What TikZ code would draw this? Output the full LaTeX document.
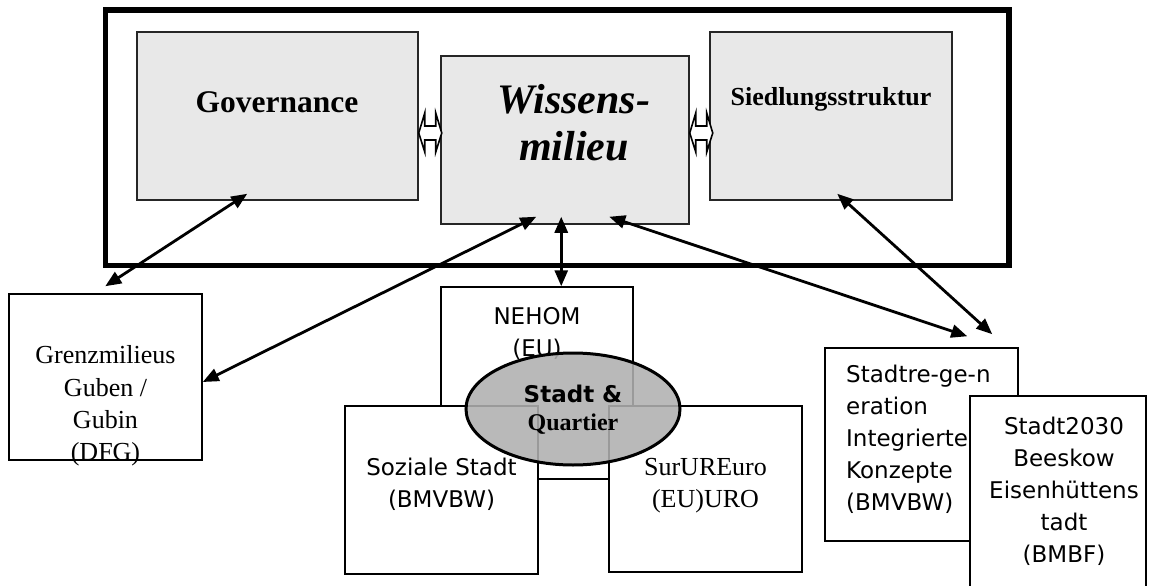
\documentclass[tikz,border=0pt]{standalone}
\usepackage{fontspec}
\setmainfont{Liberation Serif}
\newfontfamily\sansf{DejaVu Sans}
\usetikzlibrary{arrows.meta,shapes.geometric}
\definecolor{boxgray}{HTML}{E8E8E8}
\definecolor{ellgray}{HTML}{B0B0B0}
\begin{document}
\begin{tikzpicture}[x=1pt,y=-1pt,
  framebox/.style={draw=black, line width=5.5pt, inner sep=0pt, rectangle},
  whitebox/.style={draw=black, line width=1.5pt, fill=white, inner sep=0pt, rectangle},
  graybox/.style={whitebox, fill=boxgray, draw=black!85},
  conn/.style={line width=2.8pt, {Triangle[length=16pt,width=13pt]}-{Triangle[length=16pt,width=13pt]}},
  label/.style={inner sep=0pt, text=black},
  serif26/.style={label, font=\fontsize{26}{32.3}\selectfont, align=center},
  sans23/.style={label, font=\sansf\fontsize{23}{32}\selectfont, align=center},
  hollowarr/.pic={
    \draw[line width=1.6pt, fill=white, line join=miter]
      (0,0) -- (6,-20) -- (6,-7) -- (17,-7) -- (17,-20) -- (23,0)
      -- (17,19) -- (17,7) -- (6,7) -- (6,19) -- cycle;
  }]
\useasboundingbox (0,0) rectangle (1149,586);
\clip (0,0) rectangle (1149,586);

% outer frame and upper boxes
\node[framebox, minimum width=903.5pt, minimum height=255.5pt] (frame) at (557.25,137.75) {};
\node[graybox, minimum width=281pt, minimum height=168pt] (gov) at (277.5,116) {};
\node[graybox, minimum width=248pt, minimum height=168pt] (wiss) at (565,140) {};
\node[graybox, minimum width=242pt, minimum height=168pt] (sied) at (831,116) {};

\node[label, font=\fontsize{31.5}{36}\selectfont\bfseries] (govt) at (277,102) {Governance};
\node[label, font=\fontsize{26}{30}\selectfont\bfseries] (siedt) at (831,99) {Siedlungsstruktur};
\node[label, font=\fontsize{42}{47}\selectfont\bfseries\itshape, align=center] (wisst) at (574,123) {Wissens-\\milieu};

\pic at ([shift={(0,17)}]gov.east) {hollowarr};
\pic at ([shift={(0,-7)}]wiss.east) {hollowarr};

% lower boxes
\node[whitebox, minimum width=193pt, minimum height=166pt] (grenz) at (105.5,377) {};
\node[serif26] (grenzt) at (105.5,406) {Grenzmilieus\\Guben /\\Gubin\\(DFG)};

\node[whitebox, minimum width=192pt, minimum height=192pt] (nehom) at (537,383) {};
\node[sans23] (nehomt) at (537,333) {NEHOM\\(EU)};

\node[whitebox, minimum width=193pt, minimum height=168pt] (soz) at (441.5,490) {};
\node[sans23] (sozt) at (441.5,484) {Soziale Stadt\\(BMVBW)};

\node[whitebox, minimum width=193pt, minimum height=166pt] (sur) at (705.5,489) {};
\node[serif26] (surt) at (705.5,486) {SurUREuro\\(EU)URO};

\node[ellipse, draw=black, line width=3pt, fill=ellgray, fill opacity=0.88,
      minimum width=214pt, minimum height=112pt, inner sep=0pt] (ell) at (573,409) {};
\node[label, align=center, font=\fontsize{24}{28}\selectfont] (ellt) at (573,410)
  {{\sansf\bfseries\fontsize{23}{28}\selectfont Stadt \&}\\
   {\bfseries\fontsize{24}{28}\selectfont Quartier}};

\node[whitebox, minimum width=193pt, minimum height=193pt] (sreg) at (921.5,444.5) {};
\node[sans23, align=left, anchor=west] (sregt) at (846,439)
  {Stadtre-ge-n\\eration\\Integrierte\\Konzepte\\(BMVBW)};

\node[whitebox, minimum width=176pt, minimum height=224pt] (stadt) at (1058,508) {};
\node[sans23] (stadtt) at (1064,491) {Stadt2030\\Beeskow\\Eisenhüttens\\tadt\\(BMBF)};

% connectors
\draw[conn] ([shift={(111,-7)}]gov.south west) -- ([shift={(97,-7)}]grenz.north west);
\draw[conn] ([shift={(96,-8)}]wiss.south west) -- ([shift={(0,5)}]grenz.east);
\draw[conn] ([shift={(121,-8)}]wiss.south west) -- ([shift={(121,0)}]nehom.north west);
\draw[conn] ([shift={(169,-8)}]wiss.south west) -- ([shift={(143,-11)}]sreg.north west);
\draw[conn] ([shift={(128,-7)}]sied.south west) -- ([shift={(168,-13)}]sreg.north west);
\end{tikzpicture}
\end{document}
